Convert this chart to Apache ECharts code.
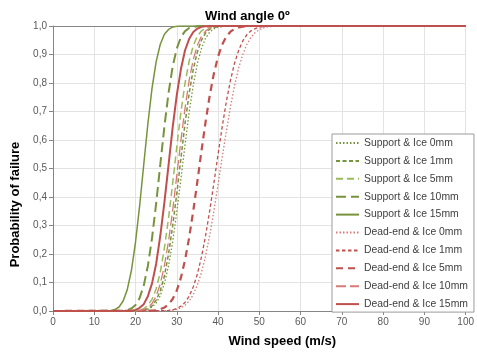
<!DOCTYPE html>
<html>
<head>
<meta charset="utf-8">
<script src="https://cdn.jsdelivr.net/npm/echarts@6/dist/echarts.min.js"></script>
<style>
  html, body { margin: 0; padding: 0; background: #fff; }
  #chart { width: 477px; height: 353px; }
</style>
</head>
<body>
<div id="chart"></div>
<script>
// [wind speed (m/s), probability of failure]
const supportIce0 = [[0,0],[21,0.001],[22,0.002],[23,0.006],[24,0.014],[25,0.028],[26,0.054],[27,0.097],[28,0.159],[29,0.242],[30,0.348],[31,0.464],[32,0.583],[33,0.698],[34,0.794],[35,0.869],[36,0.922],[37,0.958],[38,0.979],[39,0.990],[40,0.996],[41,0.998],[42,0.999],[43,1],[100,1]];
const supportIce1 = [[0,0],[21,0.001],[22,0.003],[23,0.008],[24,0.018],[25,0.038],[26,0.071],[27,0.123],[28,0.200],[29,0.298],[30,0.413],[31,0.536],[32,0.659],[33,0.764],[34,0.849],[35,0.910],[36,0.951],[37,0.976],[38,0.989],[39,0.995],[40,0.998],[41,0.999],[42,1],[100,1]];
const supportIce5 = [[0,0],[20,0.001],[21,0.003],[22,0.008],[23,0.020],[24,0.041],[25,0.078],[26,0.136],[27,0.221],[28,0.326],[29,0.448],[30,0.576],[31,0.698],[32,0.800],[33,0.877],[34,0.931],[35,0.965],[36,0.983],[37,0.993],[38,0.997],[39,0.999],[40,1],[100,1]];
const supportIce10 = [[0,0],[17,0.001],[18,0.003],[19,0.009],[20,0.021],[21,0.046],[22,0.090],[23,0.159],[24,0.256],[25,0.378],[26,0.514],[27,0.648],[28,0.765],[29,0.858],[30,0.921],[31,0.961],[32,0.982],[33,0.993],[34,0.997],[35,0.999],[36,1],[100,1]];
const supportIce15 = [[0,0],[14,0.002],[15,0.005],[16,0.014],[17,0.035],[18,0.075],[19,0.142],[20,0.242],[21,0.370],[22,0.515],[23,0.658],[24,0.782],[25,0.875],[26,0.936],[27,0.971],[28,0.988],[29,0.996],[30,0.999],[31,1],[100,1]];
const deadEndIce0 = [[0,0],[28,0.001],[29,0.003],[30,0.006],[31,0.011],[32,0.020],[33,0.035],[34,0.058],[35,0.092],[36,0.136],[37,0.195],[38,0.268],[39,0.352],[40,0.444],[41,0.540],[42,0.629],[43,0.716],[44,0.791],[45,0.853],[46,0.901],[47,0.936],[48,0.961],[49,0.977],[50,0.987],[51,0.993],[52,0.997],[53,0.998],[54,0.999],[55,1],[100,1]];
const deadEndIce1 = [[0,0],[27,0.001],[28,0.002],[29,0.004],[30,0.009],[31,0.017],[32,0.030],[33,0.052],[34,0.085],[35,0.130],[36,0.191],[37,0.266],[38,0.354],[39,0.450],[40,0.550],[41,0.646],[42,0.734],[43,0.809],[44,0.870],[45,0.915],[46,0.948],[47,0.970],[48,0.983],[49,0.991],[50,0.996],[51,0.998],[52,0.999],[53,1],[100,1]];
const deadEndIce5 = [[0,0],[24,0.001],[25,0.002],[26,0.006],[27,0.012],[28,0.023],[29,0.042],[30,0.072],[31,0.117],[32,0.179],[33,0.258],[34,0.352],[35,0.456],[36,0.564],[37,0.666],[38,0.758],[39,0.834],[40,0.893],[41,0.935],[42,0.963],[43,0.980],[44,0.990],[45,0.995],[46,0.998],[47,0.999],[48,1],[100,1]];
const deadEndIce10 = [[0,0],[21,0.002],[22,0.005],[23,0.012],[24,0.026],[25,0.052],[26,0.095],[27,0.159],[28,0.245],[29,0.353],[30,0.476],[31,0.599],[32,0.712],[33,0.810],[34,0.883],[35,0.933],[36,0.965],[37,0.983],[38,0.993],[39,0.997],[40,0.999],[41,1],[100,1]];
const deadEndIce15 = [[0,0],[19,0.001],[20,0.004],[21,0.011],[22,0.024],[23,0.052],[24,0.097],[25,0.166],[26,0.264],[27,0.382],[28,0.512],[29,0.644],[30,0.758],[31,0.849],[32,0.915],[33,0.955],[34,0.979],[35,0.991],[36,0.997],[37,0.999],[38,1],[100,1]];

const GREEN = '#77933C';
const LIGHT_GREEN = '#9BBB59';
const RED = '#C0504D';
const LIGHT_RED = '#D77B78';

const seriesDefs = [
  { name: 'Support & Ice 0mm', data: supportIce0, color: GREEN, width: 1.3, type: [1.5, 2] },
  { name: 'Support & Ice 1mm', data: supportIce1, color: GREEN, width: 1.5, type: [4, 2.5] },
  { name: 'Support & Ice 5mm', data: supportIce5, color: LIGHT_GREEN, width: 1.5, type: [7, 4] },
  { name: 'Support & Ice 10mm', data: supportIce10, color: GREEN, width: 2, type: [10, 5] },
  { name: 'Support & Ice 15mm', data: supportIce15, color: GREEN, width: 1.5, type: 'solid' },
  { name: 'Dead-end & Ice 0mm', data: deadEndIce0, color: LIGHT_RED, width: 1.3, type: [1.5, 2] },
  { name: 'Dead-end & Ice 1mm', data: deadEndIce1, color: RED, width: 1.3, type: [3.5, 2.5] },
  { name: 'Dead-end & Ice 5mm', data: deadEndIce5, color: RED, width: 2.2, type: [7, 5] },
  { name: 'Dead-end & Ice 10mm', data: deadEndIce10, color: LIGHT_RED, width: 1.3, type: [10, 4] },
  { name: 'Dead-end & Ice 15mm', data: deadEndIce15, color: RED, width: 2, type: 'solid' },
];

const chart = echarts.init(document.getElementById('chart'));
const FONT = '"Liberation Sans", Arial, sans-serif';

chart.setOption({
  animation: false,
  textStyle: { fontFamily: FONT },
  title: {
    text: 'Wind angle 0º',
    left: 200,
    top: 5,
    textStyle: { fontSize: 13, fontWeight: 'bold', color: '#000', fontFamily: FONT },
  },
  grid: { left: 53, right: 4, top: 26, bottom: 40 },
  legend: {
    orient: 'vertical',
    left: 332,
    top: 134,
    padding: [4, 6, 3, 3],
    itemWidth: 23,
    itemHeight: 10,
    itemGap: 7.9,
    backgroundColor: '#fff',
    borderColor: '#9a9a9a',
    borderWidth: 1,
    itemStyle: { opacity: 0 },
    textStyle: { fontSize: 10.4, color: '#404040', fontFamily: FONT },
    data: seriesDefs.map((s) => s.name),
  },
  xAxis: [
    {
      type: 'value',
      min: 0,
      max: 100,
      interval: 10,
      name: 'Wind speed (m/s)',
      nameLocation: 'middle',
      nameGap: 24,
      nameTextStyle: { fontSize: 13, fontWeight: 'bold', color: '#000', padding: [0, 0, 0, 46] },
      axisLine: { lineStyle: { color: '#868686' } },
      axisTick: { length: 4, lineStyle: { color: '#868686' } },
      axisLabel: { fontSize: 10, color: '#595959', margin: 6 },
      splitLine: { lineStyle: { color: '#e3e3e3' } },
    },
    {
      type: 'value',
      position: 'top',
      min: 0,
      max: 100,
      axisLine: { show: true, lineStyle: { color: '#868686' } },
      axisTick: { show: false },
      axisLabel: { show: false },
      splitLine: { show: false },
    },
  ],
  yAxis: {
    type: 'value',
    min: 0,
    max: 1,
    interval: 0.1,
    name: 'Probability of failure',
    nameLocation: 'middle',
    nameRotate: 90,
    nameGap: 27,
    nameTextStyle: { fontSize: 13, fontWeight: 'bold', color: '#000', padding: [0, 72, 0, 0] },
    axisLine: { show: true, lineStyle: { color: '#868686' } },
    axisTick: { show: true, length: 4, lineStyle: { color: '#868686' } },
    axisLabel: {
      fontSize: 10,
      color: '#595959',
      margin: 6,
      formatter: (v) => v.toFixed(1).replace('.', ','),
    },
    splitLine: { lineStyle: { color: '#e3e3e3' } },
  },
  series: seriesDefs.map((s) => ({
    name: s.name,
    type: 'line',
    xAxisIndex: 0,
    data: s.data,
    symbol: 'none',
    color: s.color,
    lineStyle: { color: s.color, width: s.width, type: s.type },
  })),
});
</script>
</body>
</html>
